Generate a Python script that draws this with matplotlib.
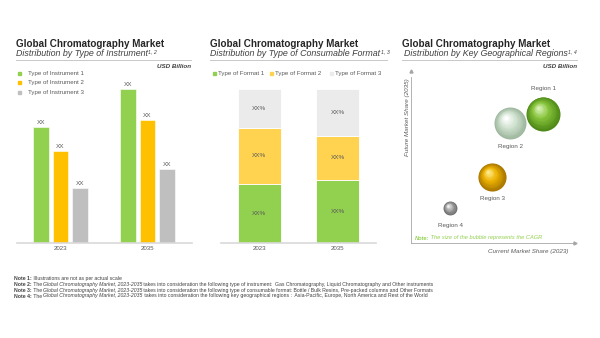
import numpy as np
import matplotlib
matplotlib.use("Agg")
import matplotlib.pyplot as plt
from matplotlib.patches import Rectangle
from matplotlib.transforms import offset_copy
from matplotlib.colors import to_rgb

plt.rcParams['font.family'] = ['Liberation Sans', 'DejaVu Sans']

# ---------------- data ----------------
years = ["2023", "2035"]
instrument_names = ["Type of Instrument 1", "Type of Instrument 2", "Type of Instrument 3"]
instrument_1 = [7.1, 9.45]
instrument_2 = [5.65, 7.55]
instrument_3 = [3.4, 4.55]
instrument_labels = ["XX", "XX", "XX"]

format_names = ["Type of Format 1", "Type of Format 2", "Type of Format 3"]
format_1 = [38.3, 40.9]
format_2 = [36.4, 28.6]
format_3 = [25.3, 30.5]
format_labels = ["XX%", "XX%", "XX%"]

regions = ["Region 1", "Region 2", "Region 3", "Region 4"]
current_share = [80.5, 60.4, 49.4, 23.8]
future_share = [78.0, 72.3, 39.8, 21.1]
cagr = [12.0, 10.6, 8.2, 2.0]

notes = [
    [("Note 1:", "bold", "normal"), (" Illustrations are not as per actual scale", "normal", "normal")],
    [("Note 2:", "bold", "normal"), (" The ", "normal", "normal"),
     ("Global Chromatography Market, 2023-2035", "normal", "italic"),
     (" takes into consideration the following type of instrument:  Gas Chromatography, Liquid Chromatography and Other instruments", "normal", "normal")],
    [("Note 3:", "bold", "normal"), (" The ", "normal", "normal"),
     ("Global Chromatography Market, 2023-2035", "normal", "italic"),
     (" takes into consideration the following type of consumable format: Bottle / Bulk Resins, Pre-packed columns and Other Formats", "normal", "normal")],
    [("Note 4:", "bold", "normal"), (" The ", "normal", "normal"),
     ("Global Chromatography Market, 2023-2035", "normal", "italic"),
     (" takes into consideration the following key geographical regions :  Asia-Pacific, Europe, North America and Rest of the World", "normal", "normal")],
]

# ---------------- styles ----------------
W, H = 600, 338
GREEN = "#92D050"
ORANGE = "#FFC000"
GREY = "#BFBFBF"
YELLOW = "#FFD34F"
LIGHT = "#EBEBEB"
TXT = "#595959"
TITLE = "#262626"
AXIS = "#D9D9D9"

fig = plt.figure(figsize=(W / 100, H / 100), dpi=100)
fig.patch.set_facecolor("white")

# background axes in pixel coordinates
bg = fig.add_axes([0, 0, 1, 1])
bg.set_xlim(0, W)
bg.set_ylim(H, 0)
bg.axis("off")


def header(x, title, subtitle, sup, line_x1, usd_x=None, sub_dx=0):
    bg.text(x, 47, title, fontsize=7.1, weight="bold", color=TITLE, va="baseline", ha="left")
    st = bg.text(x + sub_dx, 56.5, subtitle, fontsize=6.4, style="italic", color="#404040",
                 va="baseline", ha="left")
    bg.annotate(sup, xy=(1, 1), xycoords=st, fontsize=3.8, style="italic", color="#404040",
                va="top", ha="left", xytext=(0.3, 0), textcoords="offset points")
    bg.plot([x, line_x1], [60, 60], color="#BFBFBF", lw=0.6)
    if usd_x is not None:
        bg.text(usd_x, 66, "USD Billion", fontsize=4.5, weight="bold", style="italic",
                color="#404040", va="center", ha="right")


header(16, "Global Chromatography Market", "Distribution by Type of Instrument", "1, 2", 191, 191)
header(210, "Global Chromatography Market", "Distribution by Type of Consumable Format", "1, 3", 387)
header(402, "Global Chromatography Market", "Distribution by Key Geographical Regions", "1, 4", 577, 577, sub_dx=2)

# ---------------- panel 1: grouped bars ----------------
ax1 = fig.add_axes([17 / W, 1 - 243 / H, 175 / W, 163 / H])
ax1.set_xlim(-0.5, 1.51)
ax1.set_ylim(0, 10)
x = np.arange(len(years))
off, bw = 0.224, 0.178
series1 = [instrument_1, instrument_2, instrument_3]
cols1 = [GREEN, ORANGE, GREY]
for i, (vals, c) in enumerate(zip(series1, cols1)):
    pos = x + (i - 1) * off
    ax1.bar(pos, vals, width=bw, color=c, edgecolor="white", linewidth=0.4)
    for p, v in zip(pos, vals):
        ax1.text(p, v + 0.12, instrument_labels[i], ha="center", va="bottom", fontsize=4.6, color=TXT)
for s in ["top", "right", "left"]:
    ax1.spines[s].set_visible(False)
ax1.spines["bottom"].set_color(AXIS)
ax1.spines["bottom"].set_linewidth(1.2)
ax1.set_yticks([])
ax1.set_xticks(x)
ax1.set_xticklabels(years, fontsize=4.4, color=TXT)
ax1.tick_params(axis="x", length=0, pad=2.5)
ax1.patch.set_alpha(0)

# legend panel 1
for i, (name, c) in enumerate(zip(instrument_names, cols1)):
    yy = 73.3 + i * 9.5
    bg.add_patch(Rectangle((17.5, yy - 1.6), 3.2, 3.2, color=c))
    bg.text(28, yy, name, fontsize=4.4, color=TXT, va="center", ha="left")

# ---------------- panel 2: stacked bars ----------------
ax2 = fig.add_axes([221 / W, 1 - 243 / H, 155 / W, 154 / H])
ax2.set_xlim(-0.49, 1.49)
ax2.set_ylim(0, 100)
series2 = [format_1, format_2, format_3]
cols2 = [GREEN, YELLOW, LIGHT]
bottom = np.zeros(len(years))
for i, (vals, c) in enumerate(zip(series2, cols2)):
    vals = np.array(vals)
    ax2.bar(x, vals, bottom=bottom, width=0.55, color=c, edgecolor="white", linewidth=0.6)
    for p, b, v in zip(x, bottom, vals):
        ax2.text(p, b + v / 2, format_labels[i], ha="center", va="center", fontsize=4.6, color=TXT)
    bottom = bottom + vals
for s in ["top", "right", "left"]:
    ax2.spines[s].set_visible(False)
ax2.spines["bottom"].set_color(AXIS)
ax2.spines["bottom"].set_linewidth(1.2)
ax2.set_yticks([])
ax2.set_xticks(x)
ax2.set_xticklabels(years, fontsize=4.4, color=TXT)
ax2.tick_params(axis="x", length=0, pad=2.5)
ax2.patch.set_alpha(0)

# legend panel 2
leg_x = [213, 269.5, 329.5]
for lx, name, c in zip(leg_x, format_names, cols2):
    bg.add_patch(Rectangle((lx, 73.3 - 1.6), 3.2, 3.2, color=c))
    bg.text(lx + 5.2, 73.3, name, fontsize=4.4, color=TXT, va="center", ha="left")

# ---------------- panel 3: bubbles ----------------
ax3 = fig.add_axes([411 / W, 1 - 243 / H, 164 / W, 166 / H])
ax3.set_xlim(0, 100)
ax3.set_ylim(0, 100)
for s in ["top", "right"]:
    ax3.spines[s].set_visible(False)
for s in ["left", "bottom"]:
    ax3.spines[s].set_color("#A6A6A6")
    ax3.spines[s].set_linewidth(0.6)
ax3.set_xticks([])
ax3.set_yticks([])
ax3.patch.set_alpha(0)
ax3.plot([0, 0], [100, 103.5], color="#A6A6A6", lw=0.6, transform=ax3.transAxes, clip_on=False)
ax3.plot([0], [1.035], marker="^", ms=2.2, color="#A6A6A6", transform=ax3.transAxes, clip_on=False)
ax3.plot([1.0], [0], marker=">", ms=2.2, color="#A6A6A6", transform=ax3.transAxes, clip_on=False)

bg.text(407.5, 78, "Future Market Share (2035)", rotation=90, fontsize=4.5, style="italic",
        color=TXT, ha="center", va="top")
bg.text(568, 251.5, "Current Market Share (2023)", fontsize=4.5, style="italic",
        color=TXT, ha="right", va="center")
t_note = bg.text(415, 238, "Note:", fontsize=4.1, style="italic", weight="bold", color="#92D050",
                 va="center", ha="left")
bg.annotate(" The size of the bubble represents the CAGR", xy=(1, 0), xycoords=t_note, va="bottom",
            ha="left", fontsize=4.1, style="italic", color="#92D050")

sphere_cols = [
    ("#4F8A18", "#86C33A", "#D6F0B2"),
    ("#9DB79D", "#D3E4D3", "#FFFFFF"),
    ("#A87600", "#EDB200", "#FFE98A"),
    ("#6A6A6A", "#A9A9A9", "#F4F4F4"),
]


def mix(a, b, t):
    a, b = np.array(to_rgb(a)), np.array(to_rgb(b))
    return tuple(a + (b - a) * t)


scale = 50.0
z = 5
for k in reversed(range(len(regions))):
    s = cagr[k] * scale
    r = np.sqrt(s) / 2.0
    dark, mid, light = sphere_cols[k]
    n = 16
    for i in range(n):
        t = i / (n - 1)
        ri = r * (1 - 0.9 * t)
        dx, dy = -0.28 * r * t, 0.34 * r * t
        if t < 0.55:
            col = mix(dark, mid, t / 0.55)
        else:
            col = mix(mid, light, (t - 0.55) / 0.45)
        tr = offset_copy(ax3.transData, fig=fig, x=dx, y=dy, units="points")
        ax3.scatter([current_share[k]], [future_share[k]], s=(2 * ri) ** 2, color=col,
                    linewidths=0, transform=tr, zorder=z, clip_on=False)
        z += 1
    # label
    gap = r + 5.5 if r > 8 else r + 7.5
    if k == 0:
        ax3.annotate(regions[k], (current_share[k], future_share[k]), xytext=(0, gap),
                     textcoords="offset points", ha="center", va="center", fontsize=4.5, color=TXT)
    else:
        ax3.annotate(regions[k], (current_share[k], future_share[k]), xytext=(0, -gap),
                     textcoords="offset points", ha="center", va="center", fontsize=4.5, color=TXT)

# ---------------- notes ----------------
note_y = [281, 287, 293, 298.5]
for yy, segs in zip(note_y, notes):
    txt, w, st = segs[0]
    t = bg.text(14, yy, txt, fontsize=3.7, weight=w, style=st, color="#404040", va="bottom", ha="left")
    for txt, w, st in segs[1:]:
        t = bg.annotate(txt, xy=(1, 0), xycoords=t, fontsize=3.7, weight=w, style=st,
                        color="#404040", va="bottom", ha="left")

fig.savefig("out.png", dpi=100, facecolor="white")
